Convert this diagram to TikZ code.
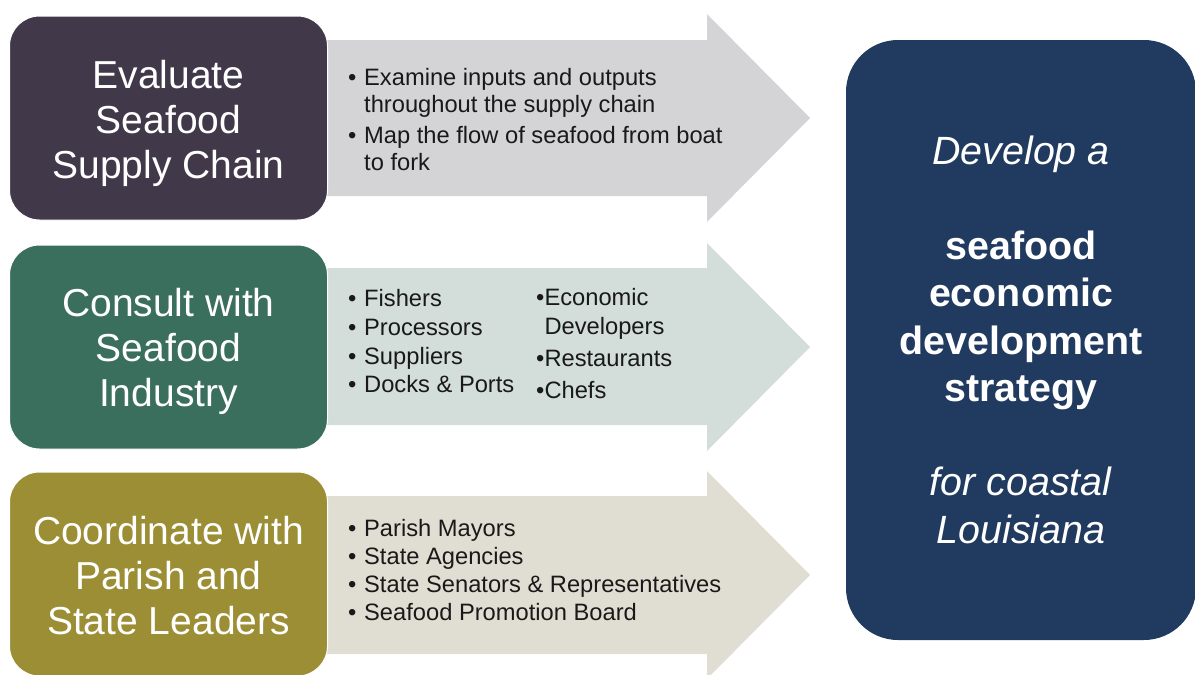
\documentclass[tikz,border=0pt]{standalone}
\usepackage{fontspec}
\setmainfont{Liberation Sans}
\usepackage{xcolor}
\usetikzlibrary{positioning}
\definecolor{evalc}{HTML}{41384A}
\definecolor{consc}{HTML}{3A6E5D}
\definecolor{coorc}{HTML}{9B8E35}
\definecolor{goalc}{HTML}{213A5F}
\definecolor{arwa}{HTML}{D4D4D6}
\definecolor{arwb}{HTML}{D3DDDA}
\definecolor{arwc}{HTML}{E0DED2}
\newcommand{\bul}{\textbullet}
\tikzset{lbox/.style={rounded corners=30pt, draw=white, line width=1pt, minimum width=318pt, minimum height=204pt, inner sep=0pt}}
\tikzset{ltxt/.style={anchor=base, inner sep=0pt, text=white, font=\fontsize{39}{45}\selectfont}}
\tikzset{gbox/.style={rounded corners=52pt, draw=none, minimum width=350pt, minimum height=600pt, inner sep=0pt, text=white, align=center, font=\fontsize{39.4}{47.3}\selectfont}}
\tikzset{lst/.style={anchor=base west, inner sep=0pt, text=black!90}}

\begin{document}
\begin{tikzpicture}[x=1pt, y=-1pt]
    \useasboundingbox (0,0) rectangle (1195,675);
    % arrows behind the boxes
    \fill[arwa] (300,40) -- (707,40) -- (707,14) -- (810,118) -- (707,222) -- (707,196) -- (300,196) -- cycle;
    \fill[arwb] (300,268) -- (707,268) -- (707,243) -- (810,347) -- (707,451) -- (707,425) -- (300,425) -- cycle;
    \fill[arwc] (300,496) -- (707,496) -- (707,471) -- (810,575) -- (707,679) -- (707,654) -- (300,654) -- cycle;
    % left boxes
    \node[lbox, fill=evalc] (eval) at (168.5,118) {};
    \node[lbox, fill=consc] (cons) at (168.5,347) {};
    \node[lbox, fill=coorc] (coor) at (168.5,574) {};
    \node[ltxt] (evalt) at (168.5,88) {\begin{tabular}[t]{@{}c@{}}Evaluate\\Seafood\\Supply Chain\end{tabular}};
    \node[ltxt] (const) at (168.5,316) {\begin{tabular}[t]{@{}c@{}}Consult with\\Seafood\\Industry\end{tabular}};
    \node[ltxt] (coort) at (168.5,544) {\begin{tabular}[t]{@{}c@{}}Coordinate with\\Parish and\\State Leaders\end{tabular}};
    % goal
    \node[gbox, fill=goalc] (goal) at (1021,340) {\textit{Develop a}\\[47.3pt]\textbf{seafood}\\\textbf{economic}\\\textbf{development}\\\textbf{strategy}\\[47.3pt]\textit{for coastal}\\\textit{Louisiana}};
    % lists
    \node[lst, font=\fontsize{23.7}{27}\selectfont] (evlst) at (348,85.7) {\begin{tabular}[t]{@{}l@{\hspace{7.7pt}}l@{}}
        \bul & Examine inputs and outputs\\
             & throughout the supply chain\\[3.6pt]
        \bul & Map the flow of seafood from boat\\
             & to fork
    \end{tabular}};
    \node[lst, font=\fontsize{23.7}{28.7}\selectfont] (cslst) at (348,306.7) {\begin{tabular}[t]{@{}l@{\hspace{7.7pt}}l@{}}
        \bul & Fishers\\
        \bul & Processors\\
        \bul & Suppliers\\
        \bul & Docks \& Ports
    \end{tabular}};
    \node[lst, font=\fontsize{23.7}{29}\selectfont] (csrgt) at (536,305) {\begin{tabular}[t]{@{}l@{}l@{}}
        \bul & Economic\\
             & Developers\\[3pt]
        \bul & Restaurants\\[3pt]
        \bul & Chefs
    \end{tabular}};
    \node[lst, font=\fontsize{23.7}{28}\selectfont] (colst) at (348,536) {\begin{tabular}[t]{@{}l@{\hspace{7.7pt}}l@{}}
        \bul & Parish Mayors\\
        \bul & State Agencies\\
        \bul & State Senators \& Representatives\\
        \bul & Seafood Promotion Board
    \end{tabular}};
\end{tikzpicture}
\end{document}
